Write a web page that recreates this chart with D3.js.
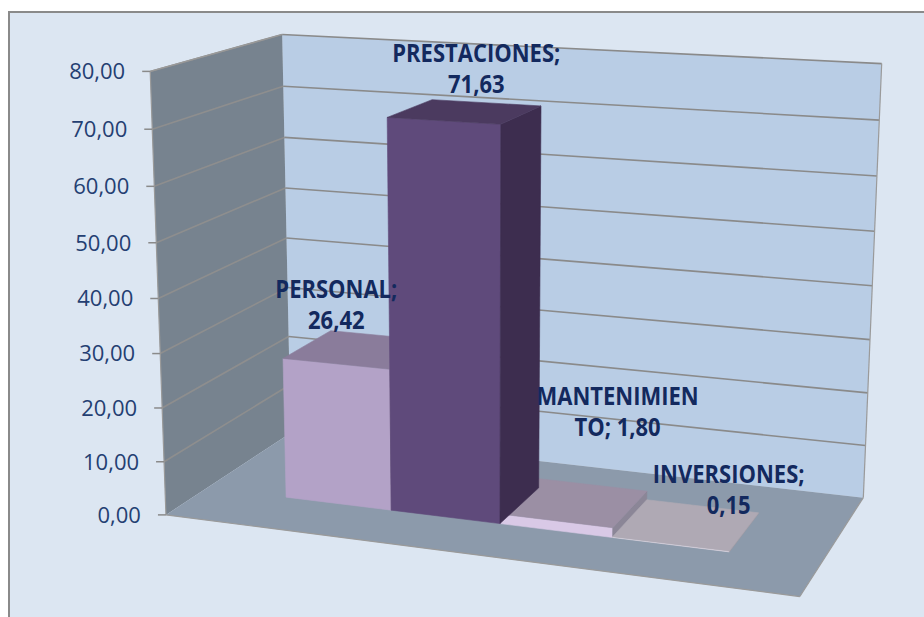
<!DOCTYPE html>
<html><head><meta charset="utf-8">
<script src="https://cdn.jsdelivr.net/npm/d3@7"></script>
<style>html,body{margin:0;padding:0;background:#fff;} svg{display:block}</style>
</head><body>
<svg id="chart" width="924" height="617"></svg>
<script>
// ---------------- DATA ----------------
const categories = ["PERSONAL", "PRESTACIONES", "MANTENIMIENTO", "INVERSIONES"];
const values = [26.42, 71.63, 1.80, 0.15];
const valueLabels = ["26,42", "71,63", "1,80", "0,15"];
const tickValues = [0, 10, 20, 30, 40, 50, 60, 70, 80];
const tickLabels = ["0,00", "10,00", "20,00", "30,00", "40,00", "50,00", "60,00", "70,00", "80,00"];

// ---------------- LAYOUT / STYLE ----------------
const labelBreaks = [null, null, 11, null];          // Excel wrapped "MANTENIMIENTO" inside the word
const labelOffsets = [[-23, -29], [11, -27], [43, -75], [42, -19]]; // second-line centre vs top-face centre
const faceColors = [
  {front: "#b3a2c7", top: "#8a7c9b", side: "#7c6e8c"},
  {front: "#5f4a7b", top: "#4b3a5f", side: "#3d2d4f"},
  {front: "#d9c9e6", top: "#9b8fa4", side: "#8b8697"},
  {front: "#ddd7e2", top: "#afa9b4", side: "#9d98a2"}
];
const barWorldX = [0.139, 0.862];  // bars span along the floor width
const barWorldZ = [0.31, 0.71];    // bar depth on the floor (0 front, 1 back)

// calibration of the 3-D frame (unit box corners & wall edges -> screen pixels)
const frameAnchors = [];
(function () {
  const fl = [513, 460, 407, 352.5, 297.5, 242, 187, 131, 72.5];
  const bl = [437.5, 387.5, 337, 287, 236.7, 186.7, 136.7, 86.7, 34];
  const br = [494, 445, 392.5, 339, 286, 231, 176, 120, 65];
  fl.forEach((y, k) => frameAnchors.push({w: [0, k / 8, 0], p: [167 - (513 - y) * 18 / 440.5, y]}));
  bl.forEach((y, k) => frameAnchors.push({w: [0, k / 8, 1], p: [290 - (437.5 - y) * 7 / 403.5, y]}));
  br.forEach((y, k) => frameAnchors.push({w: [1, k / 8, 1], p: [863 + (494 - y) * 19 / 429, y]}));
  for (let r = 0; r < 3; r++) frameAnchors.push({w: [1, 0, 0], p: [800, 598]});
})();

// ---------------- CAMERA (DLT fit) ----------------
function solveLinear(A, b) {
  const n = b.length, M = A.map((r, i) => [...r, b[i]]);
  for (let c = 0; c < n; c++) {
    let piv = c;
    for (let r = c + 1; r < n; r++) if (Math.abs(M[r][c]) > Math.abs(M[piv][c])) piv = r;
    [M[c], M[piv]] = [M[piv], M[c]];
    for (let r = 0; r < n; r++) {
      if (r === c) continue;
      const f = M[r][c] / M[c][c];
      for (let k = c; k <= n; k++) M[r][k] -= f * M[c][k];
    }
  }
  return M.map((r, i) => r[n] / r[i]);
}
const CX = 460, CY = 300, S = 1 / 500;
const P = (function () {
  const n = 11, N = Array.from({length: n}, () => new Array(n).fill(0)), rhs = new Array(n).fill(0);
  frameAnchors.forEach(a => {
    const [X, Y, Z] = a.w, x = (a.p[0] - CX) * S, y = (a.p[1] - CY) * S;
    [[[X, Y, Z, 1, 0, 0, 0, 0, -x * X, -x * Y, -x * Z], x],
     [[0, 0, 0, 0, X, Y, Z, 1, -y * X, -y * Y, -y * Z], y]].forEach(([r, v]) => {
      for (let i = 0; i < n; i++) { rhs[i] += r[i] * v; for (let j = 0; j < n; j++) N[i][j] += r[i] * r[j]; }
    });
  });
  return solveLinear(N, rhs);
})();
function project([X, Y, Z]) {
  const w = P[8] * X + P[9] * Y + P[10] * Z + 1;
  return [(P[0] * X + P[1] * Y + P[2] * Z + P[3]) / w / S + CX, (P[4] * X + P[5] * Y + P[6] * Z + P[7]) / w / S + CY];
}
const cam = solveLinear([[P[0], P[1], P[2]], [P[4], P[5], P[6]], [P[8], P[9], P[10]]], [-P[3], -P[7], -1]);

// ---------------- SCALES ----------------
const yWorld = d3.scaleLinear().domain([0, 80]).range([0, 1]);
const xBand = d3.scaleBand().domain(categories).range(barWorldX).paddingInner(0).paddingOuter(0);

// ---------------- DRAW ----------------
const svg = d3.select("#chart");
const line = d3.line();
const poly = pts => line(pts.map(project)) + "Z";

svg.append("rect").attr("x", 9).attr("y", 12).attr("width", 930).attr("height", 620)
  .attr("fill", "#dce6f2").attr("stroke", "#8a8a8a").attr("stroke-width", 2);

// walls & floor
svg.append("path").attr("d", poly([[0, 0, 1], [1, 0, 1], [1, 1, 1], [0, 1, 1]])).attr("fill", "#b9cde5");
svg.append("path").attr("d", poly([[0, 0, 0], [0, 0, 1], [0, 1, 1], [0, 1, 0]])).attr("fill", "#77838f");
svg.append("path").attr("d", poly([[0, 0, 0], [1, 0, 0], [1, 0, 1], [0, 0, 1]])).attr("fill", "#8c9aab");

// gridlines
const grid = svg.append("g").attr("fill", "none").attr("stroke-width", 1.6);
tickValues.forEach(v => {
  const Y = yWorld(v);
  if (v > 0) {
    grid.append("path").attr("d", line([[0, Y, 0], [0, Y, 1]].map(project))).attr("stroke", "#8e8e8e");
    grid.append("path").attr("d", line([[0, Y, 1], [1, Y, 1]].map(project))).attr("stroke", "#8a8a8a");
  }
});
// frame edges
const edges = svg.append("g").attr("fill", "none").attr("stroke", "#9a9a9a").attr("stroke-width", 1.2);
[[[0, 0, 0], [0, 1, 0]], [[1, 0, 1], [1, 1, 1]], [[0, 0, 0], [1, 0, 0]], [[1, 0, 0], [1, 0, 1]], [[0, 1, 1], [0, 1, 0]]]
  .forEach(seg => edges.append("path").attr("d", line(seg.map(project))));

// ticks & tick labels
const axis = svg.append("g");
tickValues.forEach((v, i) => {
  const [px, py] = project([0, yWorld(v), 0]);
  axis.append("line").attr("x1", px - 8).attr("x2", px).attr("y1", py).attr("y2", py)
    .attr("stroke", "#8a8a8a").attr("stroke-width", 1.5);
  axis.append("text").attr("x", px - 25).attr("y", py).attr("dy", "0.36em")
    .attr("text-anchor", "end").attr("font-family", "Open Sans").attr("font-size", 22)
    .attr("fill", "#243f72").text(tickLabels[i]);
});

// bars (3-D boxes with back-face culling, far to near)
const bars = categories.map((c, i) => {
  const x0 = xBand(c), x1 = x0 + xBand.bandwidth(), y1 = yWorld(values[i]);
  const [z0, z1] = barWorldZ;
  const centre = [(x0 + x1) / 2, y1 / 2, (z0 + z1) / 2];
  const dist = Math.hypot(centre[0] - cam[0], centre[1] - cam[1], centre[2] - cam[2]);
  return {i, c, x0, x1, y1, z0, z1, dist};
});
const barG = svg.append("g");
bars.slice().sort((a, b) => b.dist - a.dist).forEach(b => {
  const {x0, x1, y1, z0, z1} = b, col = faceColors[b.i];
  const faces = [
    {pts: [[x0, 0, z0], [x1, 0, z0], [x1, y1, z0], [x0, y1, z0]], vis: cam[2] < z0, fill: col.front},
    {pts: [[x1, 0, z0], [x1, 0, z1], [x1, y1, z1], [x1, y1, z0]], vis: cam[0] > x1, fill: col.side},
    {pts: [[x0, 0, z0], [x0, 0, z1], [x0, y1, z1], [x0, y1, z0]], vis: cam[0] < x0, fill: col.side},
    {pts: [[x0, y1, z0], [x1, y1, z0], [x1, y1, z1], [x0, y1, z1]], vis: cam[1] > y1, fill: col.top}
  ];
  faces.filter(f => f.vis).forEach(f =>
    barG.append("path").attr("d", poly(f.pts)).attr("fill", f.fill)
      .attr("stroke", f.fill).attr("stroke-width", 0.6).attr("stroke-linejoin", "round"));
});

// data labels
const lab = svg.append("g").attr("font-family", "Open Sans").attr("font-weight", "bold")
  .attr("font-size", 22).attr("fill", "#13295e").attr("text-anchor", "middle");
bars.forEach(b => {
  const [ax, ay] = project([(b.x0 + b.x1) / 2, b.y1, (b.z0 + b.z1) / 2]);
  const full = `${b.c}; ${valueLabels[b.i]}`;
  let l1, l2;
  if (labelBreaks[b.i] != null) { l1 = full.slice(0, labelBreaks[b.i]); l2 = full.slice(labelBreaks[b.i]); }
  else { const k = full.indexOf("; ") + 1; l1 = full.slice(0, k); l2 = full.slice(k + 1); }
  const [ox, oy] = labelOffsets[b.i];
  [[l1, -31], [l2, 0]].forEach(([t, dy]) =>
    lab.append("text").attr("transform", `translate(${ax + ox},${ay + oy + dy}) scale(1,1.12)`)
      .attr("dy", "0.36em").text(t));
});
</script>
</body></html>
